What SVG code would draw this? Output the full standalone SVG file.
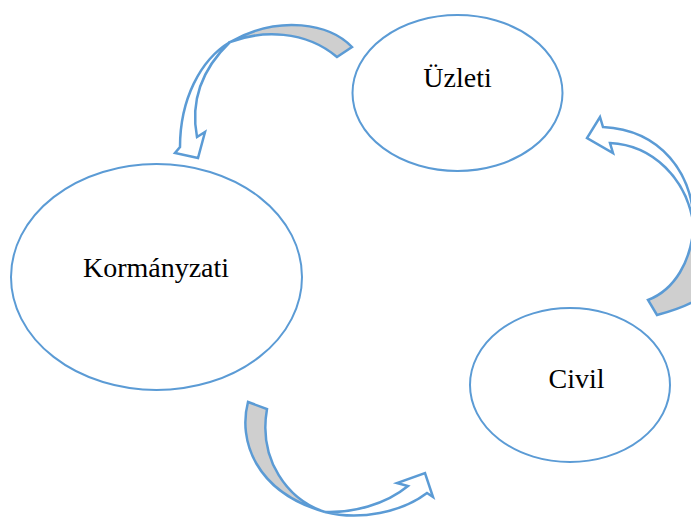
<svg xmlns="http://www.w3.org/2000/svg" width="691" height="518" viewBox="0 0 691 518">
<style>
.node{fill:#FFFFFF;stroke:#5B9BD5;stroke-width:2}
.lbl{font-family:"Liberation Serif","Times New Roman",serif;font-size:28px;fill:#000000;text-anchor:middle}
.back{fill:#CFCFCF;stroke:#5B9BD5;stroke-width:2.5;stroke-linejoin:miter}
.front{fill:#FFFFFF;stroke:#5B9BD5;stroke-width:2.5;stroke-linejoin:miter}
</style>
<rect width="691" height="518" fill="#FFFFFF"/>
<g id="connectors">
  <g id="arrow-uzleti-kormanyzati">
    <path class="back" d="M352,47 C330,24 280,14 230,42 C262,30 305,30 337,57 Z"/>
    <path class="front" d="M230,42 C200,60 180,100 180,147 L175,153 L198,158 L205,132 L197,137 C190,100 203,68 230,42 Z"/>
  </g>
  <g id="arrow-civil-uzleti">
    <path class="back" d="M694,222 C692,262 674,290 648,300 L657,315 C675,310 688,305 696,300 Z"/>
    <path class="front" d="M694,228 C694,172 660,130 603,127 L600,117 L587,138 L613,153 L610,143 C652,145 688,178 694,228 Z"/>
  </g>
  <g id="arrow-kormanyzati-civil">
    <path class="back" d="M248,402 C238,440 255,492 325,512 C288,500 258,460 267,409 Z"/>
    <path class="front" d="M325,512 C360,521 402,512 427,493 L433,497 L425,473 L397,483 L408,486 C385,505 352,513 325,512 Z"/>
  </g>
</g>
<g id="node-uzleti">
  <ellipse class="node" cx="457.5" cy="93" rx="105" ry="78"/>
  <text class="lbl" x="457.5" y="87">Üzleti</text>
</g>
<g id="node-kormanyzati">
  <ellipse class="node" cx="156.5" cy="277" rx="145.5" ry="113"/>
  <text class="lbl" x="156" y="277">Kormányzati</text>
</g>
<g id="node-civil">
  <ellipse class="node" cx="570" cy="385" rx="100" ry="77"/>
  <text class="lbl" x="576.5" y="388">Civil</text>
</g>
</svg>
